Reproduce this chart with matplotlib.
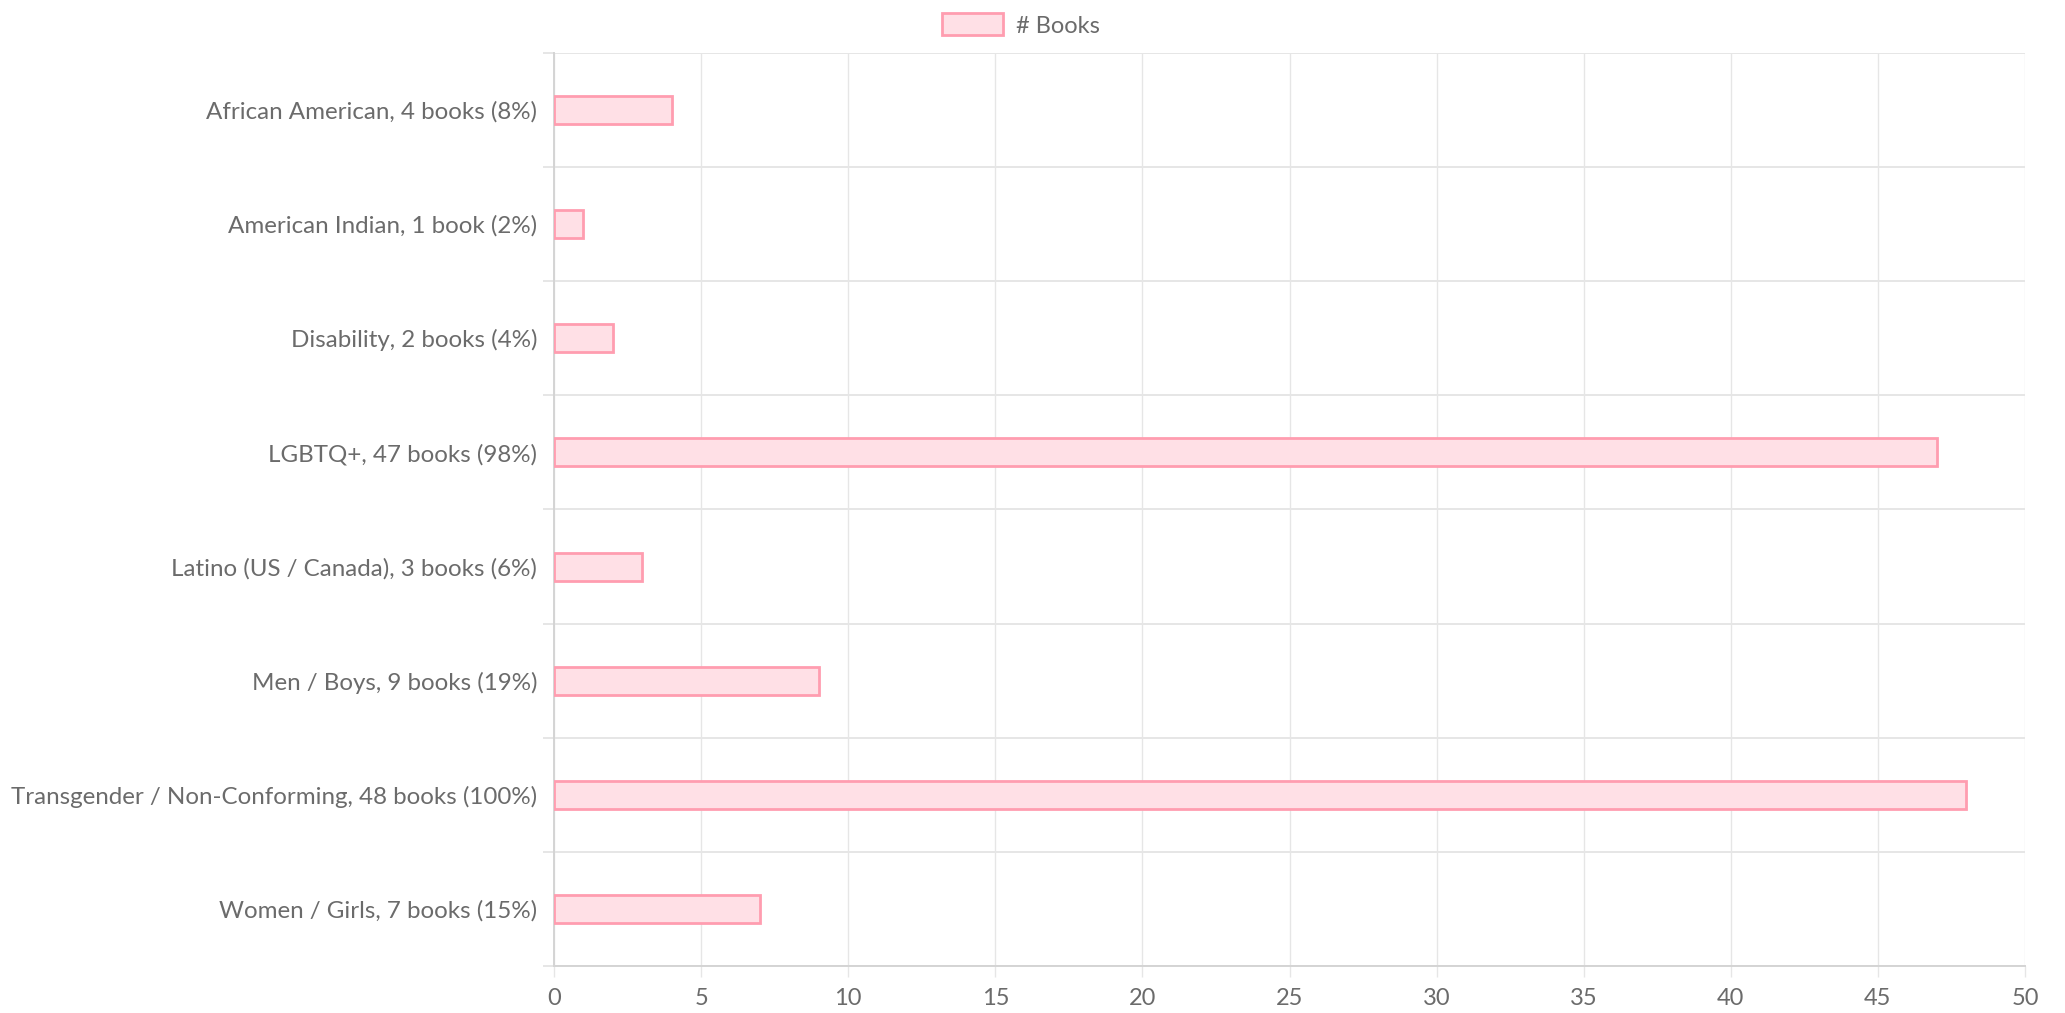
import numpy as np
import matplotlib
matplotlib.use("Agg")
import matplotlib.pyplot as plt

# ─── DATA ──────────────────────────────────────────────────────────────────────
categories = ["African American", "American Indian", "Disability", "LGBTQ+",
              "Latino (US / Canada)", "Men / Boys", "Transgender / Non-Conforming",
              "Women / Girls"]
books = [4, 1, 2, 47, 3, 9, 48, 7]
percents = [8, 2, 4, 98, 6, 19, 100, 15]
x_ticks = [0, 5, 10, 15, 20, 25, 30, 35, 40, 45, 50]
series_name = "# Books"
# ───────────────────────────────────────────────────────────────────────────────

labels = [f"{c}, {n} book{'s' if n != 1 else ''} ({p}%)"
          for c, n, p in zip(categories, books, percents)]

plt.rcParams["font.family"] = ["Lato", "DejaVu Sans"]

TEXT = "#6b6b6b"
GRID = "#e6e6e6"
AXIS = "#d4d4d4"
FILL = "#ffe0e6"
EDGE = "#ff9db0"

fig = plt.figure(figsize=(20.65, 10.13), dpi=100)
ax = fig.add_axes([554 / 2065, 1 - 966 / 1013, (2025 - 554) / 2065, (966 - 53) / 1013])

y = np.arange(len(categories))
ax.barh(y, books, height=0.245, color=FILL, edgecolor=EDGE, linewidth=2,
        label=series_name, zorder=3)

ax.set_xlim(0, 50)
ax.set_ylim(len(categories) - 0.5, -0.5)

ax.set_xticks(x_ticks)
ax.set_yticks(y)
ax.set_yticklabels(labels)
ax.set_yticks(np.arange(len(categories) + 1) - 0.5, minor=True)

ax.tick_params(axis="y", which="major", length=0, pad=12, labelsize=17.4, labelcolor=TEXT)
ax.tick_params(axis="y", which="minor", length=8, width=1.4, color=GRID)
ax.tick_params(axis="x", which="major", length=8, width=1, color=GRID, pad=8,
               labelsize=17, labelcolor=TEXT)

ax.grid(axis="x", which="major", color=GRID, linewidth=1, zorder=0)
ax.grid(axis="y", which="minor", color=GRID, linewidth=1.4, zorder=0)

for side in ["top", "right"]:
    ax.spines[side].set_visible(False)
ax.spines["left"].set_color(AXIS)
ax.spines["bottom"].set_color(AXIS)
ax.spines["left"].set_linewidth(1.4)
ax.spines["bottom"].set_linewidth(1.4)

ax.legend(loc="center", bbox_to_anchor=(0.4945, 1 - 25 / 1013),
          bbox_transform=fig.transFigure, frameon=False, fontsize=17,
          labelcolor=TEXT, handlelength=2.6, handleheight=1.05, handletextpad=0.55)

plt.savefig("out.png", dpi=100)
plt.close()
